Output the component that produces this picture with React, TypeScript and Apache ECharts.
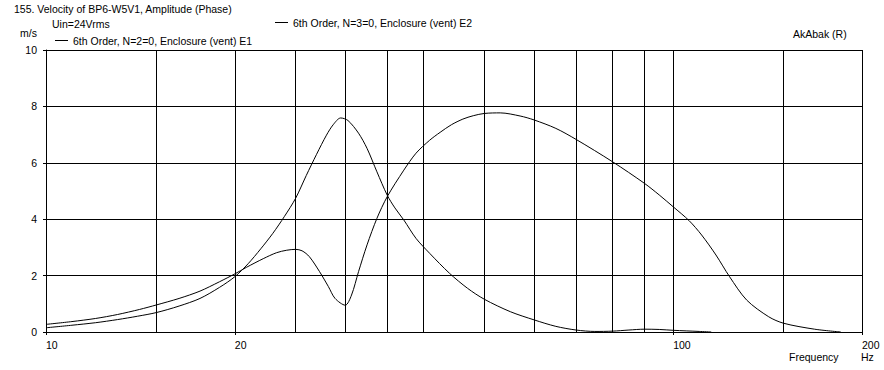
import React, { useEffect, useRef } from "react";
import * as echarts from "echarts";

const e1Freq = [10, 11, 12, 13, 14, 15, 16.3, 17.6, 18.9, 20, 21, 22, 23, 24, 25, 26, 27, 28, 28.7, 29.5, 30.3, 31.5, 32.5, 33.7, 35, 36, 37.2, 38.9, 40.9, 44, 47, 50, 55, 60, 65, 70, 75, 80, 85, 90, 95, 100, 110, 115];
const e1Vel = [0.15, 0.24, 0.33, 0.44, 0.56, 0.69, 0.92, 1.19, 1.58, 1.96, 2.42, 2.95, 3.5, 4.1, 4.74, 5.55, 6.3, 6.98, 7.35, 7.59, 7.5, 7.05, 6.51, 5.68, 4.85, 4.4, 3.97, 3.32, 2.79, 2.08, 1.55, 1.16, 0.72, 0.43, 0.2, 0.07, 0.02, 0.03, 0.07, 0.1, 0.09, 0.06, 0.02, 0.0];

const e2Freq = [10, 11, 12, 13, 14.1, 15, 16.3, 17.6, 18.9, 20, 20.9, 22.2, 23.3, 24.2, 25, 25.6, 26.3, 27.3, 28.2, 28.9, 30, 30.7, 31.5, 32.5, 33.7, 35, 37.2, 38.9, 40.9, 42.5, 44.3, 46.2, 48, 50, 53, 57, 60, 65, 70, 80, 90, 95, 100, 106, 111, 117, 123, 131, 142, 150, 168, 185];
const e2Vel = [0.27, 0.37, 0.48, 0.62, 0.8, 0.96, 1.19, 1.45, 1.78, 2.06, 2.3, 2.6, 2.81, 2.9, 2.93, 2.88, 2.67, 2.14, 1.61, 1.19, 0.95, 1.31, 2.14, 3.09, 4.03, 4.8, 5.74, 6.34, 6.8, 7.08, 7.35, 7.55, 7.67, 7.75, 7.77, 7.66, 7.52, 7.22, 6.83, 6.04, 5.27, 4.86, 4.44, 3.95, 3.44, 2.73, 1.96, 1.13, 0.54, 0.31, 0.1, 0.0];

const gridFreqs = [15, 20, 25, 30, 35, 40, 50, 60, 70, 80, 90, 100, 150, 200];
const labelFreqs = [10, 20, 100, 200];

const titleText = "155. Velocity of BP6-W5V1, Amplitude (Phase)";
const e1Name = "6th Order, N=2=0, Enclosure (vent) E1";
const e2Name = "6th Order, N=3=0, Enclosure (vent) E2";

const FONT = "'Liberation Sans', Arial, sans-serif";

export default function App() {
  const ref = useRef<HTMLDivElement>(null);
  useEffect(() => {
    if (!ref.current) return;
    const chart = echarts.init(ref.current, undefined, { renderer: "svg" });
    const black = "#000";
    const txt = (text: string, left: number, top: number) => ({
      type: "text",
      left,
      top,
      style: { text, fill: black, fontSize: 10.5, fontFamily: FONT },
    });
    chart.setOption({
      animation: false,
      backgroundColor: "#fff",
      grid: { left: 46, right: 22, top: 50, bottom: 38 },
      legend: [
        {
          data: [e1Name], left: 55, top: 35, padding: 0, icon: "rect", itemWidth: 13, itemHeight: 1,
          textStyle: { fontSize: 10.5, fontFamily: FONT, color: black },
        },
        {
          data: [e2Name], left: 275, top: 17, padding: 0, icon: "rect", itemWidth: 13, itemHeight: 1,
          textStyle: { fontSize: 10.5, fontFamily: FONT, color: black },
        },
      ],
      graphic: [
        txt(titleText, 14, 3),
        txt("Uin=24Vrms", 52, 18),
        txt("m/s", 20, 27),
        txt("AkAbak (R)", 793, 28),
        txt("Frequency", 789, 351),
        txt("Hz", 861, 351),
      ],
      xAxis: [
        {
          type: "log", logBase: 10, min: 10, max: 200,
          axisLine: { show: true, lineStyle: { color: black, width: 1 } },
          axisTick: { show: false, customValues: gridFreqs },
          axisLabel: { show: false, customValues: gridFreqs },
          splitLine: { show: true, lineStyle: { color: black, width: 1 } },
        },
        {
          type: "log", logBase: 10, min: 10, max: 200, position: "bottom",
          axisLine: { show: false },
          axisTick: { show: true, customValues: labelFreqs, length: 3, lineStyle: { color: black } },
          axisLabel: {
            customValues: labelFreqs, align: "left", margin: 7, color: black,
            fontSize: 10.5, fontFamily: FONT,
          },
          splitLine: { show: false },
        },
      ],
      yAxis: {
        type: "value", min: 0, max: 10, interval: 2,
        axisLine: { show: true, lineStyle: { color: black, width: 1 } },
        axisTick: { show: true, length: 3, lineStyle: { color: black } },
        axisLabel: {
          color: black, fontSize: 10.5, fontFamily: FONT, margin: 9, align: "right",
          verticalAlign: "middle", padding: [0, 0, 9, 0],
        },
        splitLine: { show: true, lineStyle: { color: black, width: 1 } },
      },
      series: [
        {
          name: e1Name, type: "line", xAxisIndex: 0, symbol: "none", smooth: 0.3,
          lineStyle: { color: black, width: 1 }, itemStyle: { color: black },
          data: e1Freq.map((f, i) => [f, e1Vel[i]]),
        },
        {
          name: e2Name, type: "line", xAxisIndex: 0, symbol: "none", smooth: 0.3,
          lineStyle: { color: black, width: 1 }, itemStyle: { color: black },
          data: e2Freq.map((f, i) => [f, e2Vel[i]]),
        },
      ],
    });
    return () => chart.dispose();
  }, []);
  return (
    <div
      ref={ref}
      style={{ position: "fixed", left: 0, top: 0, width: 884, height: 370, background: "#fff" }}
    />
  );
}
